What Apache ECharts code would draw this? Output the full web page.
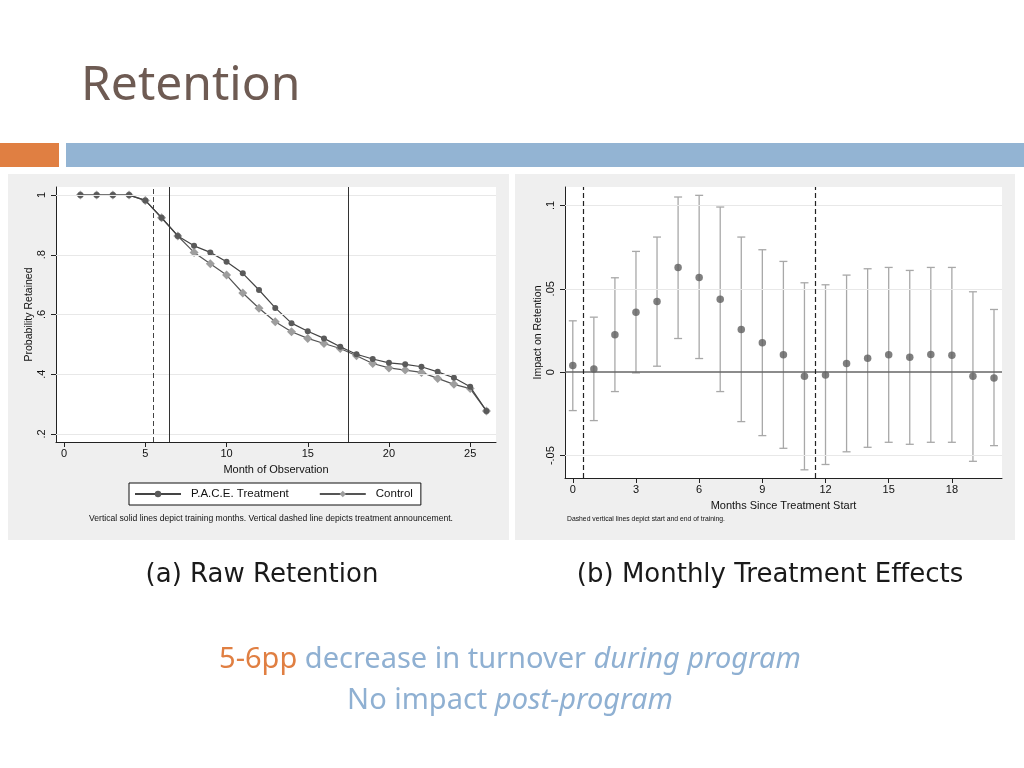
<!DOCTYPE html>
<html>
<head>
<meta charset="utf-8">
<script src="https://cdn.jsdelivr.net/npm/echarts@6/dist/echarts.min.js"></script>
<style>
html,body{margin:0;padding:0;background:#fff;}
#c{width:1024px;height:768px;}
</style>
</head>
<body>
<div id="c"></div>
<script>
// ---- Panel (a): raw retention ----
const months = [1,2,3,4,5,6,7,8,9,10,11,12,13,14,15,16,17,18,19,20,21,22,23,24,25,26];
const treatment = [1.0,1.0,1.0,1.0,0.982,0.924,0.863,0.830,0.808,0.777,0.738,0.682,0.622,0.571,0.544,0.520,0.492,0.467,0.451,0.438,0.433,0.425,0.408,0.388,0.358,0.277];
const control   = [1.0,1.0,1.0,1.0,0.982,0.924,0.863,0.808,0.770,0.732,0.672,0.621,0.576,0.542,0.520,0.503,0.486,0.462,0.436,0.421,0.414,0.406,0.386,0.366,0.352,0.277];
const xTicksA = [0,5,10,15,20,25];
const yTicksA = [0.2,0.4,0.6,0.8,1];
const yLabelsA = ['.2','.4','.6','.8','1'];
const vSolidA = [6.5,17.5];
const vDashedA = [5.5];

// ---- Panel (b): monthly treatment effects ----
const effMonths = [0,1,2,3,4,5,6,7,8,9,10,11,12,13,14,15,16,17,18,19,20];
const effEst  = [0.0040,0.0020,0.0224,0.0360,0.0424,0.0628,0.0568,0.0438,0.0256,0.0176,0.0104,-0.0024,-0.0016,0.0052,0.0084,0.0104,0.0090,0.0106,0.0102,-0.0024,-0.0034];
const effLow  = [-0.0230,-0.0290,-0.0116,-0.0004,0.0036,0.0202,0.0082,-0.0116,-0.0296,-0.0380,-0.0456,-0.0585,-0.0553,-0.0477,-0.0450,-0.0420,-0.0432,-0.0420,-0.0420,-0.0534,-0.0440];
const effHigh = [0.0308,0.0330,0.0566,0.0724,0.0810,0.1050,0.1060,0.0990,0.0810,0.0734,0.0664,0.0536,0.0524,0.0582,0.0620,0.0628,0.0610,0.0628,0.0628,0.0482,0.0376];
const xTicksB = [0,3,6,9,12,15,18];
const yTicksB = [-0.05,0,0.05,0.1];
const yLabelsB = ['-.05','0','.05','.1'];
const vDashedB = [0.5,11.5];

const axisFont = 'Liberation Sans, Arial, sans-serif';
const chart = echarts.init(document.getElementById('c'), null, {renderer:'canvas'});

function yFmt(ticks, labels){
  return function(v){
    for (let i=0;i<ticks.length;i++){ if (Math.abs(ticks[i]-v)<1e-6) return labels[i]; }
    return '';
  };
}

const option = {
  backgroundColor:'#ffffff',
  animation:false,
  grid:[
    {left:56, top:187, width:440, height:255, show:true, backgroundColor:'#ffffff', borderWidth:0},
    {left:565, top:187, width:437, height:291, show:true, backgroundColor:'#ffffff', borderWidth:0}
  ],
  xAxis:[
    {type:'value', gridIndex:0, min:-0.5, max:26.59,
     name:'Month of Observation', nameLocation:'middle', nameGap:22,
     nameTextStyle:{fontFamily:axisFont, fontSize:11, color:'#111'},
     axisLine:{show:true, onZero:false, lineStyle:{color:'#222', width:1}},
     axisTick:{show:true, length:5, customValues:xTicksA, lineStyle:{color:'#222'}},
     axisLabel:{customValues:xTicksA, fontFamily:axisFont, fontSize:11, color:'#111', margin:6},
     splitLine:{show:false}},
    {type:'value', gridIndex:1, min:-0.37, max:20.38,
     name:'Months Since Treatment Start', nameLocation:'middle', nameGap:22,
     nameTextStyle:{fontFamily:axisFont, fontSize:11, color:'#111'},
     axisLine:{show:true, onZero:false, lineStyle:{color:'#222', width:1}},
     axisTick:{show:true, length:5, customValues:xTicksB, lineStyle:{color:'#222'}},
     axisLabel:{customValues:xTicksB, fontFamily:axisFont, fontSize:11, color:'#111', margin:6},
     splitLine:{show:false}}
  ],
  yAxis:[
    {type:'value', gridIndex:0, min:0.173, max:1.027,
     name:'Probability Retained', nameLocation:'middle', nameGap:20, nameRotate:90,
     nameTextStyle:{fontFamily:axisFont, fontSize:10.5, color:'#111'},
     axisLine:{show:true, onZero:false, lineStyle:{color:'#222', width:1}},
     axisTick:{show:true, length:5, customValues:yTicksA, lineStyle:{color:'#222'}},
     axisLabel:{customValues:yTicksA, formatter:yFmt(yTicksA,yLabelsA), rotate:90, fontFamily:axisFont, fontSize:11, color:'#111', margin:9},
     splitLine:{show:false}},
    {type:'value', gridIndex:1, min:-0.0634, max:0.111,
     name:'Impact on Retention', nameLocation:'middle', nameGap:21, nameRotate:90,
     nameTextStyle:{fontFamily:axisFont, fontSize:10.5, color:'#111'},
     axisLine:{show:true, onZero:false, lineStyle:{color:'#222', width:1}},
     axisTick:{show:true, length:5, customValues:yTicksB, lineStyle:{color:'#222'}},
     axisLabel:{customValues:yTicksB, formatter:yFmt(yTicksB,yLabelsB), rotate:90, fontFamily:axisFont, fontSize:11, color:'#111', margin:9},
     splitLine:{show:false}}
  ],
  legend:{
    left:129, top:483, orient:'horizontal',
    data:['P.A.C.E. Treatment','Control'],
    backgroundColor:'#ffffff', borderColor:'#111', borderWidth:1,
    padding:[5,8,5,5], itemGap:30, itemWidth:46, itemHeight:8,
    textStyle:{fontFamily:axisFont, fontSize:11.5, color:'#111', padding:[0,0,0,5]}
  },
  series:[
    {type:'line', xAxisIndex:0, yAxisIndex:0, data:[], silent:true, z:1,
     markLine:{symbol:'none', silent:true, label:{show:false}, animation:false,
       data: yTicksA.map(v=>({yAxis:v, lineStyle:{color:'#e8e8e8', width:1, type:'solid'}}))
         .concat(vSolidA.map(v=>({xAxis:v, lineStyle:{color:'#333', width:1, type:'solid'}})))
         .concat(vDashedA.map(v=>({xAxis:v, lineStyle:{color:'#444', width:1, type:[5,3]}})))
     }},
    {name:'P.A.C.E. Treatment', type:'line', xAxisIndex:0, yAxisIndex:0, z:3,
     data: months.map((m,i)=>[m,treatment[i]]),
     symbol:'circle', symbolSize:6,
     itemStyle:{color:'#5a5a5a'},
     lineStyle:{color:'#444', width:1.2}},
    {name:'Control', type:'line', xAxisIndex:0, yAxisIndex:0, z:2,
     data: months.map((m,i)=>[m,control[i]]),
     symbol:'diamond', symbolSize:9,
     itemStyle:{color:'#9e9e9e'},
     lineStyle:{color:'#555', width:1.2}},
    {type:'line', xAxisIndex:1, yAxisIndex:1, data:[], silent:true, z:1,
     markLine:{symbol:'none', silent:true, label:{show:false}, animation:false,
       data: yTicksB.filter(v=>v!==0).map(v=>({yAxis:v, lineStyle:{color:'#e8e8e8', width:1, type:'solid'}}))
         .concat([{yAxis:0, lineStyle:{color:'#666', width:1.6, type:'solid'}}])
         .concat(vDashedB.map(v=>({xAxis:v, lineStyle:{color:'#222', width:1.2, type:[5,3]}})))
     }},
    {type:'custom', xAxisIndex:1, yAxisIndex:1, z:2,
     data: effMonths.map((m,i)=>[m,effLow[i],effHigh[i]]),
     encode:{x:0, y:[1,2]},
     renderItem:function(params, api){
       const x = api.value(0);
       const pLo = api.coord([x, api.value(1)]);
       const pHi = api.coord([x, api.value(2)]);
       const w = 4;
       const st = {stroke:'#a8a8a8', lineWidth:1.3};
       return {type:'group', children:[
         {type:'line', shape:{x1:pLo[0], y1:pLo[1], x2:pHi[0], y2:pHi[1]}, style:st},
         {type:'line', shape:{x1:pLo[0]-w, y1:pLo[1], x2:pLo[0]+w, y2:pLo[1]}, style:st},
         {type:'line', shape:{x1:pHi[0]-w, y1:pHi[1], x2:pHi[0]+w, y2:pHi[1]}, style:st}
       ]};
     }},
    {type:'scatter', xAxisIndex:1, yAxisIndex:1, z:3,
     data: effMonths.map((m,i)=>[m,effEst[i]]),
     symbol:'circle', symbolSize:7.5,
     itemStyle:{color:'#5f5f5f'}}
  ],
  graphic:[
    {type:'rect', z:-10, shape:{x:8, y:174, width:501, height:366}, style:{fill:'#efefef'}, silent:true},
    {type:'rect', z:-10, shape:{x:515, y:174, width:500, height:366}, style:{fill:'#efefef'}, silent:true},
    {type:'rect', shape:{x:0, y:143, width:59, height:24}, style:{fill:'#e07f42'}, silent:true},
    {type:'rect', shape:{x:66, y:143, width:958, height:24}, style:{fill:'#93b4d3'}, silent:true},
    {type:'text', style:{text:'Retention', x:81, y:86, textVerticalAlign:'middle',
      font:'48px "Noto Sans", sans-serif', fill:'#6e5b53'}},
    {type:'text', style:{text:'Vertical solid lines depict training months. Vertical dashed line depicts treatment announcement.',
      x:271, y:519, textAlign:'center', textVerticalAlign:'middle', font:'8.6px "Liberation Sans", Arial, sans-serif', fill:'#111'}},
    {type:'text', style:{text:'Dashed vertical lines depict start and end of training.',
      x:567, y:519, textAlign:'left', textVerticalAlign:'middle', font:'6.8px "Liberation Sans", Arial, sans-serif', fill:'#111'}},
    {type:'text', style:{text:'(a) Raw Retention', x:262, y:575, textAlign:'center', textVerticalAlign:'middle',
      font:'26px "DejaVu Sans", sans-serif', fill:'#1a1a1a'}},
    {type:'text', style:{text:'(b) Monthly Treatment Effects', x:770, y:575, textAlign:'center', textVerticalAlign:'middle',
      font:'26px "DejaVu Sans", sans-serif', fill:'#1a1a1a'}},
    {type:'text', style:{text:'{o|5-6pp }{b|decrease in turnover }{i|during program}', x:510, y:660,
      textAlign:'center', textVerticalAlign:'middle',
      rich:{
        o:{fill:'#e07f42', font:'29px "Noto Sans", sans-serif'},
        b:{fill:'#8fb0d2', font:'29px "Noto Sans", sans-serif'},
        i:{fill:'#8fb0d2', font:'italic 29px "Noto Sans", sans-serif'}
      }}},
    {type:'text', style:{text:'{b|No impact }{i|post-program}', x:510, y:701,
      textAlign:'center', textVerticalAlign:'middle',
      rich:{
        b:{fill:'#8fb0d2', font:'29px "Noto Sans", sans-serif'},
        i:{fill:'#8fb0d2', font:'italic 29px "Noto Sans", sans-serif'}
      }}}
  ]
};
chart.setOption(option);
</script>
</body>
</html>
